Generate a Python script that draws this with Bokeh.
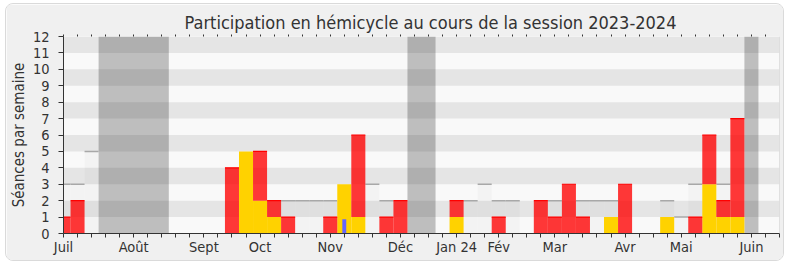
import math
from bokeh.plotting import figure
from bokeh.models import Range1d, FixedTicker, LinearAxis, Span
from bokeh.embed import file_html
from bokeh.resources import INLINE

# ---------------- data ----------------
weeks = list(range(51))
total = [1, 2, 0, 0, 0, 0, 0, 0, 0, 0,
         0, 0, 4, 5, 5, 2, 1, 0, 0, 1,
         3, 6, 0, 1, 2, 0, 0, 0, 2, 0,
         0, 1, 0, 0, 2, 1, 3, 1, 0, 1,
         3, 0, 0, 1, 0, 1, 6, 2, 7, 0,
         0]
yellow = [0, 0, 0, 0, 0, 0, 0, 0, 0, 0,
          0, 0, 0, 5, 2, 1, 0, 0, 0, 0,
          3, 1, 0, 0, 0, 0, 0, 0, 1, 0,
          0, 0, 0, 0, 0, 0, 0, 0, 0, 1,
          0, 0, 0, 1, 0, 0, 3, 1, 1, 0,
          0]
N = float("nan")
median = [3, 3, 5, N, N, N, N, N, N, N,
          N, N, N, N, N, N, 2, 2, 2, 2,
          N, N, 3, 2, N, N, N, N, N, 2,
          3, 2, 2, N, N, 2, N, 2, 2, 2,
          N, N, N, 2, 1, 3, N, 3, N, N,
          N]
blue_weeks = [20]
blue_vals = [0.87]
vacation_weeks = [3, 4, 5, 6, 7, 25, 26, 49]
month_ticks = [0, 5, 10, 14, 19, 24, 28, 31, 35, 40, 44, 49]
month_labels = ["Juil", "Août", "Sept", "Oct", "Nov", "Déc", "Jan 24", "Fév",
                "Mar", "Avr", "Mai", "Juin"]
y_ticks = list(range(13))
X_MAX = 51
Y_MAX = 12

FONT = "DejaVu Sans Condensed"
TXT = "#333333"

p = figure(width=779, height=258, output_backend="svg", toolbar_location=None,
           x_range=Range1d(0, X_MAX), y_range=Range1d(0, Y_MAX),
           min_border_left=56, min_border_right=6, min_border_top=32,
           min_border_bottom=29)
p.styles = {"margin-left": "5px", "margin-top": "3px",
            "border": "1px solid #DADADA", "border-radius": "8px",
            "overflow": "hidden"}
p.border_fill_color = "#F0F0F0"
p.background_fill_color = "#F9F9F9"
p.outline_line_color = None
p.xgrid.visible = False
p.ygrid.visible = False

# title
p.title.text = "Participation en hémicycle au cours de la session 2023-2024"
p.title.align = "left"
p.title.text_font = FONT
p.title.text_font_size = "18px"
p.title.text_font_style = "normal"
p.title.text_color = TXT
p.title.standoff = 4
p.title.offset = 121

# vacations (merge consecutive weeks into blocks)
blocks = []
for w in vacation_weeks:
    if blocks and w == blocks[-1][1] + 1:
        blocks[-1][1] = w
    else:
        blocks.append([w, w])
p.quad(left=[b[0] - 0.5 for b in blocks], right=[b[1] + 0.5 for b in blocks],
       bottom=0, top=Y_MAX, color="#BEBEBE", line_color=None)

# bands
band_y = [t + 0.5 for t in y_ticks[1:] if t % 2 == 1]
p.hbar(y=band_y, height=1, left=0, right=X_MAX, fill_color="black",
       fill_alpha=0.08, line_color=None)

# median
mw = [w for w, m in zip(weeks, median) if not math.isnan(m)]
mv = [m for m in median if not math.isnan(m)]
p.vbar(x=mw, width=1, bottom=0, top=mv, fill_color="black", fill_alpha=0.025,
       line_color=None)
p.segment(x0=[w - 0.5 for w in mw], x1=[w + 0.5 for w in mw], y0=mv, y1=mv,
          line_color="#A8A8A8", line_width=1.5)

# yellow
yw = [w for w, v in zip(weeks, yellow) if v > 0]
yv = [v for v in yellow if v > 0]
p.vbar(x=yw, width=1, bottom=0, top=yv, fill_color="#FFD200", line_color=None)

# red
rw = [w for w, t, y in zip(weeks, total, yellow) if t > y]
rb = [y for t, y in zip(total, yellow) if t > y]
rt = [t for t, y in zip(total, yellow) if t > y]
p.vbar(x=rw, width=1, bottom=rb, top=rt, fill_color="#FF0000", fill_alpha=0.78,
       line_color=None)
p.segment(x0=[w - 0.5 for w in rw], x1=[w + 0.5 for w in rw], y0=rt, y1=rt,
          line_color="#FF0000", line_width=1.2)

# blue
p.vbar(x=blue_weeks, width=0.28, bottom=0, top=blue_vals, fill_color="#6464FF",
       line_color=None)

# right edge line
p.add_layout(Span(location=X_MAX, dimension="height", line_color="#C8C8C8", line_width=1))

# axes
xa = p.xaxis[0]
xa.ticker = FixedTicker(ticks=weeks + [X_MAX], minor_ticks=[])
xa.major_label_overrides = {w: "" for w in weeks + [X_MAX]}
xa.major_label_overrides.update({t: l for t, l in zip(month_ticks, month_labels)})
xa.major_tick_out = 4
xa.major_tick_in = 0
xa.major_tick_line_color = TXT
xa.axis_line_color = TXT
xa.major_label_text_font = FONT
xa.major_label_text_font_size = "14.5px"
xa.major_label_text_color = TXT
xa.major_label_standoff = 1

ya = p.yaxis[0]
ya.ticker = FixedTicker(ticks=y_ticks, minor_ticks=[])
ya.major_tick_out = 5
ya.major_tick_in = 0
ya.major_tick_line_color = TXT
ya.axis_line_color = TXT
ya.major_label_text_font = FONT
ya.major_label_text_font_size = "14.5px"
ya.major_label_text_color = TXT
ya.major_label_standoff = 9
ya.axis_label = "Séances par semaine"
ya.axis_label_text_font = FONT
ya.axis_label_text_font_size = "15px"
ya.axis_label_text_font_style = "normal"
ya.axis_label_text_color = TXT
ya.axis_label_standoff = 2

top = LinearAxis(ticker=FixedTicker(ticks=weeks, minor_ticks=[]),
                 major_label_text_font_size="0px", axis_line_color=None,
                 major_label_standoff=0,
                 major_tick_out=2, major_tick_in=0, major_tick_line_color=TXT)
top.major_label_overrides = {w: "" for w in weeks}
p.add_layout(top, "above")

open("out.html", "w").write(file_html(p, INLINE))
